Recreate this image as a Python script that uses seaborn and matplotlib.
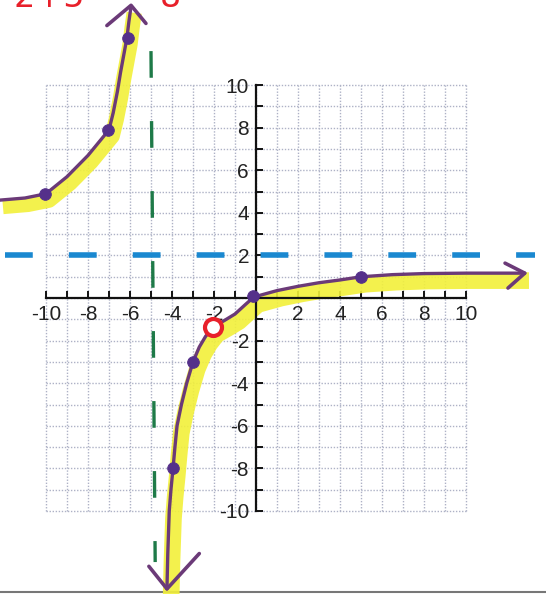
import numpy as np
import pandas as pd
import seaborn as sns
import matplotlib.pyplot as plt

# hand drawn curve
left_x = [-12.2, -11.0, -10.0, -9.0, -8.0, -7.0, -6.8, -6.6, -6.45, -6.3, -6.15, -6.05, -5.95]
left_y = [4.6, 4.7, 4.9, 5.7, 6.7, 7.9, 8.7, 9.7, 10.6, 11.4, 12.2, 13.0, 13.7]
right_x = [-4.24, -4.2, -4.13, -4.05, -3.95, -3.86, -3.76, -3.55, -3.3, -3.0, -2.7, -2.4, -2.05,
           -1.5, -1.0, -0.5, -0.1, 1.0, 2.0, 3.0, 4.0, 5.0, 6.5, 8.0, 10.0, 12.8]
right_y = [-13.66, -12.0, -10.0, -9.0, -8.0, -7.0, -6.0, -5.0, -4.0, -3.0, -2.3, -1.8, -1.36,
           -1.05, -0.75, -0.3, 0.05, 0.35, 0.55, 0.72, 0.85, 1.0, 1.1, 1.15, 1.17, 1.17]

pts_x = [-10.05, -7.05, -6.1, -3.95, -3.0, -0.15, 5.0]
pts_y = [4.9, 7.9, 12.2, -8.0, -3.0, 0.12, 1.0]
hole_x = [-2.05]
hole_y = [-1.36]

h_asym = 2
v_asym = -5

# arrow heads: tip, arm1, arm2
arrow_tips = [(-5.95, 13.75), (-4.24, -13.66), (12.8, 1.17)]
arrow_arm1 = [(-7.1, 12.8), (-5.1, -12.6), (11.86, 1.64)]
arrow_arm2 = [(-5.24, 12.9), (-2.7, -12.0), (12.0, 0.47)]

x_labels = [-10, -8, -6, -4, -2, 2, 4, 6, 8, 10]
y_labels = [10, 8, 6, 4, 2, -2, -4, -6, -8, -10]

sns.set_theme(style="white")
plt.rcParams['font.family'] = ['Liberation Sans Narrow', 'Liberation Sans', 'DejaVu Sans']

fig = plt.figure(figsize=(5.46, 5.94), dpi=100)
ax = fig.add_axes([0, 0, 1, 1])
ax.set_xlim(-12.19, 13.81)
ax.set_ylim(-13.9, 14.0)

# graph paper
grid = np.arange(-10, 11)
ax.vlines(grid, -10, 10, colors="#aeb2c6", linestyles=(0, (1, 1.2)), linewidth=1.0, zorder=0)
ax.hlines(grid, -10, 10, colors="#aeb2c6", linestyles=(0, (1, 1.2)), linewidth=1.0, zorder=0)

# axes through the origin
for side in ["top", "right"]:
    ax.spines[side].set_visible(False)
ax.spines["left"].set_position(("data", 0))
ax.spines["bottom"].set_position(("data", 0))
ax.spines["left"].set_bounds(-10, 10)
ax.spines["bottom"].set_bounds(-10, 10)
for side in ["left", "bottom"]:
    ax.spines[side].set_color("#111111")
    ax.spines[side].set_linewidth(1.6)
ax.set_xticks(x_labels)
ax.set_xticklabels([str(v) for v in x_labels])
ax.set_yticks(y_labels)
ax.set_yticklabels([str(v) for v in y_labels])
ax.set_xticks(grid, minor=True)
ax.set_yticks(grid, minor=True)
ax.tick_params(which="both", direction="in", length=5, width=1.4, color="#111111",
               left=True, bottom=True)
ax.tick_params(which="major", labelsize=15, labelcolor="#222222", pad=5)

# scanner edge at the bottom
ax.axhline(-13.8, color="#777777", lw=1.5, zorder=0)

# highlighter under the curve
hl = "#f2f03a"
ax.plot(np.array(left_x) + 0.15, np.array(left_y) - 0.3, color=hl, lw=11,
        alpha=0.9, solid_capstyle="butt", zorder=1)
ax.plot(np.array(right_x) + 0.2, np.array(right_y) - 0.35, color=hl, lw=12,
        alpha=0.9, solid_capstyle="butt", zorder=1)

# asymptotes
ax.axhline(h_asym, xmin=0.01, xmax=0.98, color="#1a88d0", lw=4, dashes=(5, 6.5), zorder=2)
ax.plot([v_asym, v_asym + 0.2], [11.6, -12.4], color="#1e7a48", lw=2.4, dashes=(8, 13), zorder=2)

# the curve
left = pd.DataFrame({"x": left_x, "y": left_y})
right = pd.DataFrame({"x": right_x, "y": right_y})
sns.lineplot(data=left, x="x", y="y", sort=False, estimator=None, color="#6b3a78", lw=2.4, ax=ax, zorder=3)
sns.lineplot(data=right, x="x", y="y", sort=False, estimator=None, color="#6b3a78", lw=2.4, ax=ax, zorder=3)
for tip, a1, a2 in zip(arrow_tips, arrow_arm1, arrow_arm2):
    ax.plot([a1[0], tip[0], a2[0]], [a1[1], tip[1], a2[1]], color="#6b3a78", lw=2.6,
            solid_capstyle="round", zorder=3)

sns.scatterplot(x=pts_x, y=pts_y, color="#55308a", s=70, edgecolor="#55308a", ax=ax, zorder=4)
ax.scatter(hole_x, hole_y, s=150, facecolor="white", edgecolor="#e8202a", linewidths=3, zorder=5)

# red handwriting cut off at the top
ax.text(-12.1, 14.1, "-2+5", color="#e8202a", fontsize=24, ha="left", va="center", family=["DejaVu Sans"])
ax.text(-4.6, 14.1, "8", color="#e8202a", fontsize=24, ha="left", va="center", family=["DejaVu Sans"])

ax.set_xlabel("")
ax.set_ylabel("")
fig.savefig("out.png", dpi=100)
